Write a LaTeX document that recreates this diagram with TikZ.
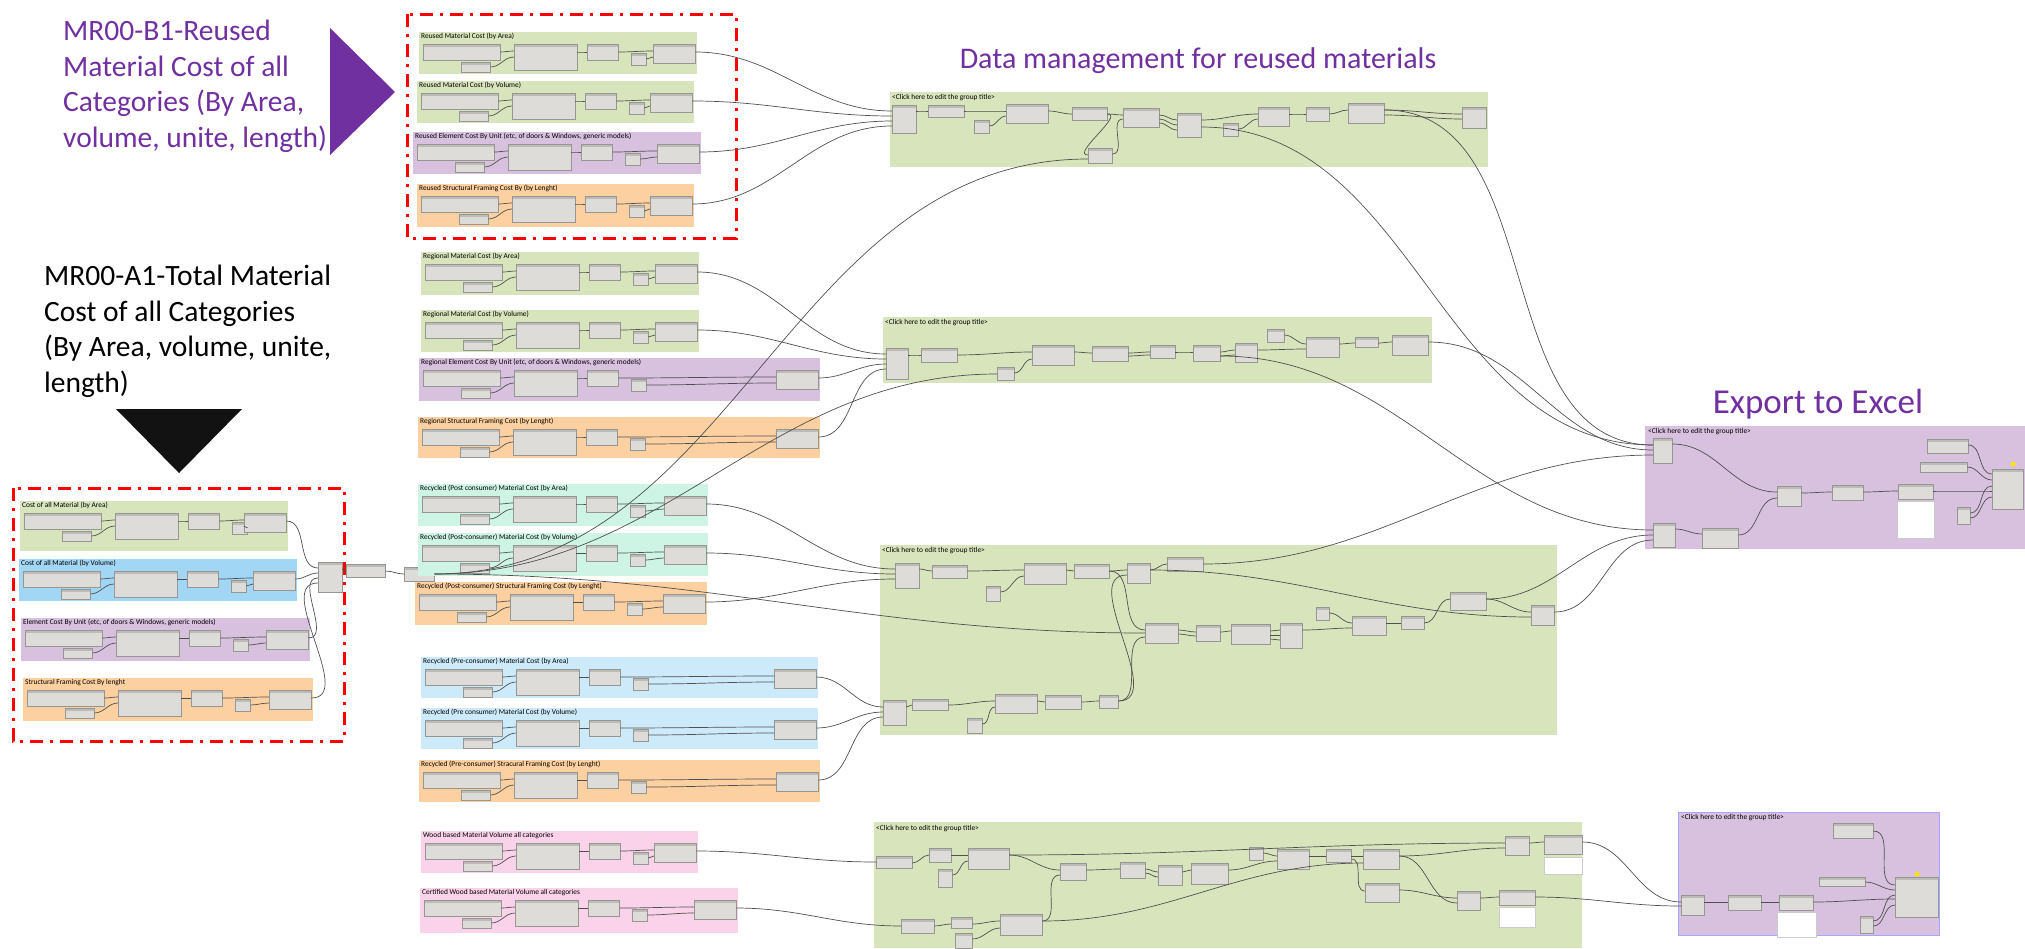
\documentclass[tikz,border=0pt]{standalone}
\usepackage{fontspec}
\setmainfont{Carlito}
\usepackage{tikz}
\usetikzlibrary{calc}

\definecolor{grpgreen}{RGB}{216,228,188}
\definecolor{grppurple}{RGB}{216,192,223}
\definecolor{grporange}{RGB}{252,208,160}
\definecolor{grpblue}{RGB}{162,214,245}
\definecolor{grpsky}{RGB}{205,234,250}
\definecolor{grpmint}{RGB}{205,244,229}
\definecolor{grppink}{RGB}{250,211,234}
\definecolor{nodebody}{RGB}{221,220,216}
\definecolor{nodehead}{RGB}{188,187,182}
\definecolor{nodeedge}{RGB}{150,150,147}
\definecolor{wirecol}{RGB}{80,80,80}
\definecolor{mrpurple}{RGB}{112,48,160}

% wire from an output port to an input port (offsets from the top edge)
\newcommand{\dwire}[4]{\draw[wire] ([yshift=-#2pt]#1.north east)
  to[out=0,in=180] ([yshift=-#4pt]#3.north west);}
% one cost group: name, x, y, width, height, fill, title
\newcommand{\costgroup}[7]{%
  \fill[#6] (#2,#3) rectangle ++(#4,#5);
  \node[gtitle] (#1t) at (#2+2,#3+1) {#7};
  \node[dn={77}{16}] (#1a) at (#2+4,#3+12) {};
  \node[dn={29}{10}] (#1b) at (#2+42,#3+30) {};
  \node[dn={63}{26}] (#1c) at (#2+95,#3+12) {};
  \node[dn={31}{16}] (#1d) at (#2+168,#3+12) {};
  \node[dn={15}{12}] (#1e) at (#2+212,#3+21) {};
  \node[dn={42}{19}] (#1f) at (#2+#4-44,#3+12) {};
  \dwire{#1a}{8}{#1c}{7}
  \dwire{#1b}{5}{#1c}{13}
  \dwire{#1c}{8}{#1d}{8}
  \dwire{#1d}{8}{#1f}{7}
  \dwire{#1e}{6}{#1f}{13}}

\begin{document}
\begin{tikzpicture}[x=1pt,y=-1pt,
   dn/.style 2 args={draw=nodeedge,fill=nodebody,line width=0.3pt,inner sep=0pt,
     anchor=north west,minimum width=#1pt,minimum height=#2pt,
     path picture={\fill[nodehead] (path picture bounding box.north west)
       rectangle ([yshift=-2.5pt]path picture bounding box.north east);}},
   watch/.style 2 args={draw=black!20,fill=white,line width=0.3pt,inner sep=0pt,
     anchor=north west,minimum width=#1pt,minimum height=#2pt},
   wire/.style={draw=wirecol,line width=0.7pt},
   gtitle/.style={anchor=north west,inner sep=0pt,font=\fontsize{7.4}{8}\selectfont},
   biglabel/.style={anchor=base west,inner sep=0pt,align=left,
     font=\fontsize{29.5}{35.5}\selectfont},
   headline/.style={inner sep=0pt,text=mrpurple,font=\fontsize{30}{35}\selectfont},
   redbox/.style={draw=red,line width=3pt,dash pattern=on 13pt off 7pt on 3pt off 7pt}]
  \useasboundingbox (0,0) rectangle (2025,948);

  % labels and markers (base = last line)
  \node[biglabel,text=mrpurple] (reusedlbl) at (63,147)
    {MR00-B1-Reused\\Material Cost of all\\Categories (By Area,\\volume, unite, length)};
  \fill[mrpurple] (330,28) -- (395,92) -- (330,155) -- cycle;
  \node[biglabel] (totallbl) at (44,392)
    {MR00-A1-Total Material\\Cost of all Categories\\(By Area, volume, unite,\\length)};
  \fill[black!93] (116,409) -- (242,409) -- (179,473) -- cycle;
  \node[headline] (dmhead) at (1198,61) {Data management for reused materials};
  \node[headline,font=\fontsize{35}{40}\selectfont] (exhead) at (1818,404) {Export to Excel};

  % reused groups
  \costgroup{r1}{419}{32}{278}{42}{grpgreen}{Reused Material Cost  (by Area)}
  \costgroup{r2}{417}{81}{277}{42}{grpgreen}{Reused Material Cost  (by Volume)}
  \costgroup{r3}{413}{132}{288}{42}{grppurple}{Reused Element Cost By Unit (etc, of doors \& Windows, generic models)}
  \costgroup{r4}{417}{184}{277}{43}{grporange}{Reused Structural Framing Cost By (by Lenght)}
  \draw[redbox] (407,14) rectangle (736,238);

  % total cost groups
  \costgroup{a1}{20}{501}{268}{50}{grpgreen}{Cost of all Material (by Area)}
  \costgroup{a2}{19}{559}{278}{42}{grpblue}{Cost of all Material (by Volume)}
  \costgroup{a3}{21}{618}{289}{43}{grppurple}{Element Cost By Unit (etc, of doors \& Windows, generic models)}
  \costgroup{a4}{23}{678}{290}{43}{grporange}{Structural Framing Cost By  lenght}
  \draw[redbox] (13,488) rectangle (344,741);
  \node[dn={24}{30}] (mlist) at (318,562) {};
  \node[dn={39}{13}] (mflat) at (346,564) {};
  \node[dn={30}{14}] (msum) at (404,567) {};
  \dwire{a1f}{8}{mlist}{6}
  \dwire{a2f}{8}{mlist}{11}
  \dwire{a3f}{8}{mlist}{16}
  \dwire{a4f}{8}{mlist}{21}
  \dwire{mlist}{7}{mflat}{7}
  \dwire{mflat}{7}{msum}{7}

  % regional groups
  \costgroup{g1}{421}{252}{278}{43}{grpgreen}{Regional Material Cost  (by Area)}
  \costgroup{g2}{421}{310}{278}{42}{grpgreen}{Regional Material Cost  (by Volume)}
  \costgroup{g3}{419}{358}{401}{43}{grppurple}{Regional Element Cost By Unit (etc, of doors \& Windows, generic models)}
  \costgroup{g4}{418}{417}{402}{41}{grporange}{Regional Structural Framing Cost (by Lenght)}

  % recycled groups
  \costgroup{p1}{418}{484}{290}{42}{grpmint}{Recycled (Post consumer) Material Cost  (by Area)}
  \costgroup{p2}{418}{533}{290}{43}{grpmint}{Recycled (Post-consumer) Material Cost  (by Volume)}
  \costgroup{p3}{415}{582}{292}{43}{grporange}{Recycled (Post-consumer) Structural Framing Cost  (by Lenght)}
  \costgroup{q1}{421}{657}{397}{41}{grpsky}{Recycled (Pre-consumer) Material Cost  (by Area)}
  \costgroup{q2}{421}{708}{397}{41}{grpsky}{Recycled (Pre consumer) Material Cost  (by Volume)}
  \costgroup{q3}{419}{760}{401}{42}{grporange}{Recycled (Pre-consumer) Stracural Framing Cost  (by Lenght)}

  % wood groups
  \costgroup{w1}{421}{831}{277}{42}{grppink}{Wood based Material Volume all categories}
  \costgroup{w2}{420}{888}{318}{45}{grppink}{Certified Wood based Material Volume all categories}

  % data management (reused)
  \fill[grpgreen] (890,92) rectangle (1488,167);
  \node[gtitle] (dmt) at (892,94) {<Click here to edit the group title>};
  \node[dn={24}{28}] (dm1) at (892,105) {};
  \node[dn={36}{12}] (dm2) at (928,105) {};
  \node[dn={15}{13}] (dm3) at (974,120) {};
  \node[dn={42}{19}] (dm4) at (1006,104) {};
  \node[dn={35}{13}] (dm5) at (1072,107) {};
  \node[dn={36}{19}] (dm6) at (1123,108) {};
  \node[dn={24}{24}] (dm7) at (1177,113) {};
  \node[dn={15}{13}] (dm8) at (1223,123) {};
  \node[dn={31}{19}] (dm9) at (1258,107) {};
  \node[dn={23}{14}] (dm10) at (1306,107) {};
  \node[dn={36}{20}] (dm11) at (1348,103) {};
  \node[dn={24}{21}] (dm12) at (1462,107) {};
  \node[dn={24}{15}] (dm13) at (1088,148) {};
  \dwire{r1f}{8}{dm1}{6}
  \dwire{r2f}{8}{dm1}{11}
  \dwire{r3f}{8}{dm1}{16}
  \dwire{r4f}{8}{dm1}{21}
  \dwire{dm1}{6}{dm2}{6}
  \dwire{dm2}{6}{dm4}{7}
  \dwire{dm3}{6}{dm4}{12}
  \dwire{dm4}{7}{dm5}{7}
  \dwire{dm5}{7}{dm6}{7}
  \dwire{dm5}{7}{dm13}{7}
  \dwire{dm13}{6}{dm6}{11}
  \dwire{msum}{7}{dm13}{11}
  \dwire{dm6}{7}{dm7}{7}
  \dwire{dm6}{11}{dm7}{12}
  \dwire{dm6}{15}{dm7}{17}
  \dwire{dm7}{7}{dm9}{7}
  \dwire{dm8}{6}{dm9}{12}
  \dwire{dm9}{7}{dm10}{7}
  \dwire{dm10}{7}{dm11}{7}
  \dwire{dm11}{7}{dm12}{7}
  \dwire{dm11}{12}{dm12}{12}

  % regional data
  \fill[grpgreen] (883,317) rectangle (1432,383);
  \node[gtitle] (rmt) at (885,319) {<Click here to edit the group title>};
  \node[dn={22}{31}] (rm1) at (886,348) {};
  \node[dn={36}{14}] (rm2) at (921,348) {};
  \node[dn={17}{13}] (rm3) at (997,367) {};
  \node[dn={42}{20}] (rm4) at (1032,345) {};
  \node[dn={36}{15}] (rm5) at (1092,346) {};
  \node[dn={25}{13}] (rm6) at (1150,345) {};
  \node[dn={27}{16}] (rm7) at (1193,345) {};
  \node[dn={22}{19}] (rm8) at (1235,343) {};
  \node[dn={17}{13}] (rm9) at (1267,329) {};
  \node[dn={33}{20}] (rm10) at (1306,337) {};
  \node[dn={23}{10}] (rm11) at (1355,337) {};
  \node[dn={36}{20}] (rm12) at (1392,335) {};
  \dwire{g1f}{8}{rm1}{6}
  \dwire{g2f}{8}{rm1}{11}
  \dwire{g3f}{8}{rm1}{16}
  \dwire{g4f}{8}{rm1}{21}
  \dwire{rm1}{7}{rm2}{7}
  \dwire{rm2}{7}{rm4}{7}
  \dwire{msum}{7}{rm3}{7}
  \dwire{rm3}{6}{rm4}{14}
  \dwire{rm4}{7}{rm5}{7}
  \dwire{rm5}{7}{rm6}{7}
  \dwire{rm5}{10}{rm6}{10}
  \dwire{rm6}{7}{rm7}{7}
  \dwire{rm7}{7}{rm8}{7}
  \dwire{rm7}{11}{rm8}{12}
  \dwire{rm8}{7}{rm10}{12}
  \dwire{rm9}{6}{rm10}{7}
  \dwire{rm10}{7}{rm11}{6}
  \dwire{rm11}{6}{rm12}{7}

  % recycled data
  \fill[grpgreen] (880,545) rectangle (1557,735);
  \node[gtitle] (rct) at (882,547) {<Click here to edit the group title>};
  \node[dn={24}{25}] (rc1) at (895,563) {};
  \node[dn={35}{13}] (rc2) at (932,565) {};
  \node[dn={14}{15}] (rc3) at (986,586) {};
  \node[dn={42}{21}] (rc4) at (1024,563) {};
  \node[dn={35}{14}] (rc5) at (1074,564) {};
  \node[dn={23}{20}] (rc6) at (1127,563) {};
  \node[dn={36}{14}] (rc7) at (1167,557) {};
  \node[dn={33}{20}] (rc8) at (1145,623) {};
  \node[dn={24}{16}] (rc9) at (1196,625) {};
  \node[dn={39}{20}] (rc10) at (1231,624) {};
  \node[dn={22}{25}] (rc11) at (1280,623) {};
  \node[dn={13}{13}] (rc12) at (1316,607) {};
  \node[dn={34}{19}] (rc13) at (1352,616) {};
  \node[dn={23}{13}] (rc14) at (1401,616) {};
  \node[dn={36}{18}] (rc15) at (1450,592) {};
  \node[dn={23}{20}] (rc16) at (1531,605) {};
  \node[dn={23}{25}] (rc17) at (883,700) {};
  \node[dn={36}{11}] (rc18) at (912,699) {};
  \node[dn={15}{15}] (rc19) at (967,718) {};
  \node[dn={42}{19}] (rc20) at (995,694) {};
  \node[dn={36}{14}] (rc21) at (1045,695) {};
  \node[dn={19}{13}] (rc22) at (1099,695) {};
  \dwire{p1f}{8}{rc1}{6}
  \dwire{p2f}{8}{rc1}{11}
  \dwire{p3f}{8}{rc1}{16}
  \dwire{rc1}{6}{rc2}{6}
  \dwire{rc2}{6}{rc4}{7}
  \dwire{rc3}{6}{rc4}{13}
  \dwire{rc4}{7}{rc5}{7}
  \dwire{rc5}{7}{rc6}{7}
  \dwire{rc6}{7}{rc7}{7}
  \dwire{rc6}{7}{rc16}{12}
  \dwire{rc5}{7}{rc8}{7}
  \dwire{rc22}{6}{rc6}{12}
  \dwire{rc22}{6}{rc8}{14}
  \dwire{msum}{7}{rc8}{10}
  \dwire{rc8}{7}{rc9}{7}
  \dwire{rc8}{11}{rc9}{11}
  \dwire{rc9}{7}{rc10}{7}
  \dwire{rc10}{7}{rc11}{7}
  \dwire{rc10}{11}{rc11}{12}
  \dwire{rc10}{15}{rc11}{17}
  \dwire{rc11}{7}{rc13}{12}
  \dwire{rc12}{6}{rc13}{7}
  \dwire{rc13}{7}{rc14}{7}
  \dwire{rc14}{7}{rc15}{7}
  \dwire{rc15}{7}{rc16}{7}
  \dwire{q1f}{8}{rc17}{7}
  \dwire{q2f}{8}{rc17}{12}
  \dwire{q3f}{8}{rc17}{17}
  \dwire{rc17}{7}{rc18}{6}
  \dwire{rc18}{6}{rc20}{7}
  \dwire{rc19}{6}{rc20}{13}
  \dwire{rc20}{7}{rc21}{7}
  \dwire{rc21}{7}{rc22}{6}

  % wood data
  \fill[grpgreen] (874,822) rectangle (1582,948);
  \node[gtitle] (wdt) at (876,825) {<Click here to edit the group title>};
  \node[dn={36}{12}] (wd1) at (876,856) {};
  \node[dn={22}{14}] (wd2) at (929,848) {};
  \node[dn={14}{18}] (wd3) at (938,869) {};
  \node[dn={41}{21}] (wd4) at (968,848) {};
  \node[dn={26}{17}] (wd5) at (1060,863) {};
  \node[dn={25}{16}] (wd6) at (1120,862) {};
  \node[dn={24}{20}] (wd7) at (1158,865) {};
  \node[dn={37}{21}] (wd8) at (1191,863) {};
  \node[dn={14}{13}] (wd9) at (1249,847) {};
  \node[dn={32}{20}] (wd10) at (1277,849) {};
  \node[dn={25}{13}] (wd11) at (1326,849) {};
  \node[dn={36}{20}] (wd12) at (1363,849) {};
  \node[dn={34}{19}] (wd13) at (1365,883) {};
  \node[dn={23}{19}] (wd14) at (1457,891) {};
  \node[dn={36}{15}] (wd15) at (1499,890) {};
  \node[watch={36}{20}] (wd15w) at (1499,907) {};
  \node[dn={24}{19}] (wd16) at (1505,836) {};
  \node[dn={38}{19}] (wd17) at (1544,835) {};
  \node[watch={38}{17}] (wd17w) at (1544,857) {};
  \node[dn={33}{14}] (wd18) at (901,919) {};
  \node[dn={21}{11}] (wd19) at (951,917) {};
  \node[dn={17}{15}] (wd20) at (955,933) {};
  \node[dn={42}{21}] (wd21) at (1000,914) {};
  \dwire{w1f}{8}{wd1}{6}
  \dwire{w2f}{8}{wd18}{7}
  \dwire{wd1}{7}{wd2}{7}
  \dwire{wd2}{7}{wd4}{7}
  \dwire{wd3}{6}{wd4}{13}
  \dwire{wd4}{7}{wd16}{7}
  \dwire{wd4}{7}{wd5}{7}
  \dwire{wd5}{7}{wd6}{7}
  \dwire{wd6}{7}{wd7}{7}
  \dwire{wd6}{11}{wd7}{12}
  \dwire{wd7}{7}{wd8}{7}
  \dwire{wd8}{7}{wd10}{12}
  \dwire{wd9}{6}{wd10}{7}
  \dwire{wd10}{7}{wd11}{7}
  \dwire{wd11}{7}{wd12}{7}
  \dwire{wd12}{7}{wd16}{12}
  \dwire{wd12}{7}{wd14}{12}
  \dwire{wd11}{10}{wd13}{8}
  \dwire{wd13}{7}{wd14}{7}
  \dwire{wd14}{7}{wd15}{7}
  \dwire{wd16}{7}{wd17}{7}
  \dwire{wd18}{7}{wd19}{7}
  \dwire{wd19}{7}{wd21}{7}
  \dwire{wd20}{6}{wd21}{14}
  \dwire{wd21}{7}{wd5}{12}
  \dwire{wd21}{7}{wd12}{14}

  % export to excel
  \fill[grppurple] (1645,426) rectangle (2025,549);
  \node[gtitle] (ext) at (1648,428) {<Click here to edit the group title>};
  \node[dn={19}{25}] (ex1) at (1653,438) {};
  \node[dn={22}{24}] (ex2) at (1653,523) {};
  \node[dn={36}{20}] (ex3) at (1702,528) {};
  \node[dn={24}{20}] (ex4) at (1777,486) {};
  \node[dn={31}{15}] (ex5) at (1832,485) {};
  \node[dn={35}{15}] (ex6) at (1898,484) {};
  \node[watch={37}{37}] (ex6w) at (1897,501) {};
  \node[dn={41}{14}] (ex7) at (1927,439) {};
  \node[dn={47}{10}] (ex8) at (1920,462) {};
  \node[dn={13}{17}] (ex9) at (1957,507) {};
  \node[dn={31}{40}] (ex10) at (1992,469) {};
  \fill[yellow!85!orange] (2013,464) circle (2.5);
  \dwire{dm7}{14}{ex1}{7}
  \dwire{dm11}{7}{ex1}{7}
  \dwire{rm12}{7}{ex1}{12}
  \dwire{rc7}{7}{ex1}{17}
  \dwire{rm7}{11}{ex2}{7}
  \dwire{rc15}{7}{ex2}{12}
  \dwire{rc16}{7}{ex2}{17}
  \dwire{ex1}{6}{ex4}{6}
  \dwire{ex2}{6}{ex3}{6}
  \dwire{ex3}{7}{ex4}{12}
  \dwire{ex4}{7}{ex5}{7}
  \dwire{ex5}{7}{ex6}{7}
  \dwire{ex6}{7}{ex10}{22}
  \dwire{ex7}{6}{ex10}{5}
  \dwire{ex8}{5}{ex10}{11}
  \dwire{ex9}{6}{ex10}{17}
  \dwire{ex9}{11}{ex10}{28}

  % wood export
  \filldraw[fill=grppurple,draw=blue!35,line width=0.5pt] (1678,812) rectangle (1939,935);
  \node[gtitle] (wxt) at (1681,814) {<Click here to edit the group title>};
  \node[dn={23}{20}] (wx1) at (1681,895) {};
  \node[dn={33}{15}] (wx2) at (1728,895) {};
  \node[dn={34}{15}] (wx3) at (1779,895) {};
  \node[watch={39}{25}] (wx3w) at (1777,912) {};
  \node[dn={40}{15}] (wx4) at (1833,823) {};
  \node[dn={46}{9}] (wx5) at (1819,877) {};
  \node[dn={13}{17}] (wx6) at (1860,916) {};
  \node[dn={43}{40}] (wx7) at (1895,877) {};
  \fill[yellow!85!orange] (1917,874) circle (2.5);
  \dwire{wd17}{7}{wx1}{7}
  \dwire{wd15}{7}{wx1}{11}
  \dwire{wx1}{7}{wx2}{7}
  \dwire{wx2}{7}{wx3}{7}
  \dwire{wx3}{7}{wx7}{22}
  \dwire{wx4}{8}{wx7}{8}
  \dwire{wx5}{5}{wx7}{13}
  \dwire{wx6}{5}{wx7}{18}
  \dwire{wx6}{10}{wx7}{28}
\end{tikzpicture}
\end{document}
